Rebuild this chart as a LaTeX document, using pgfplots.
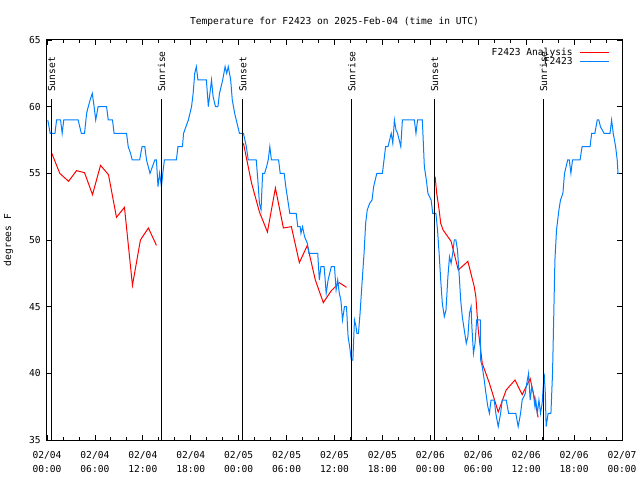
\documentclass[border=0pt]{standalone}
\usepackage{fontspec}
\setmainfont{DejaVu Sans Mono}
\usepackage{pgfplots}
\pgfplotsset{compat=1.18}
\definecolor{gred}{RGB}{255,0,0}
\definecolor{gblue}{RGB}{0,128,255}
\begin{document}
\fontsize{9.6bp}{12bp}\selectfont
\begin{tikzpicture}
\begin{axis}[
  name=ax, at={(0,0)}, anchor=south west,
  scale only axis, width=575bp, height=400bp,
  xmin=0, xmax=72, ymin=35, ymax=65,
  xtick={0,6,...,72}, minor x tick num=2,
  ytick={35,40,...,65},
  xticklabels={{02/04\\00:00},{02/04\\06:00},{02/04\\12:00},{02/04\\18:00},{02/05\\00:00},{02/05\\06:00},{02/05\\12:00},{02/05\\18:00},{02/06\\00:00},{02/06\\06:00},{02/06\\12:00},{02/06\\18:00},{02/07\\00:00}},
  xticklabel style={align=center, font=\fontsize{9.6bp}{14bp}\selectfont, yshift=-8bp},
  yticklabel style={xshift=-3bp},
  tick align=inside, xtick pos=both, ytick pos=both,
  major tick length=5bp, minor tick length=3bp,
  tick style={black, line width=0.8bp},
  axis line style={line width=1bp},
  /pgf/number format/assume math mode=true,
  every axis title shift=0pt,
  title={Temperature for F2423 on 2025-Feb-04 (time in UTC)},
  title style={at={(0.5,1.046)}, anchor=center, inner sep=0pt},
  ylabel={degrees F},
  ylabel style={at={(axis description cs:-0.067,0.5)}, anchor=center},
  legend style={draw=none, fill=none, at={(axis description cs:0.978,0.985)}, anchor=north east, inner sep=0pt, row sep=-2bp, nodes={inner sep=1.5bp}, /tikz/every odd column/.append style={column sep=5bp}},
  legend cell align=right, legend plot pos=right,
  legend image code/.code={\draw[#1] (0bp,0bp) -- (29bp,0bp);},
]
\addplot[gred, line width=1bp, unbounded coords=jump] coordinates {
(0.6,56.5) (1.6,55.0) (2.7,54.4) (3.7,55.2) (4.7,55.05) (5.7,53.4) (6.7,55.6) (7.7,54.9) (8.7,51.7) (9.7,52.45) (10.7,46.6) (11.7,50.0) (12.7,50.9) (13.7,49.6)
(13.71,nan)
(24.6,57.25) (25.6,54.3) (26.6,52.1) (27.6,50.6) (28.6,53.9) (29.6,50.9) (30.6,51.0) (31.6,48.3) (32.6,49.6) (33.6,47.0) (34.6,45.3) (35.6,46.2) (36.6,46.8) (37.5,46.45)
(37.51,nan)
(48.6,54.75) (48.8,53.5) (49.1,52.25) (49.3,51.25) (49.6,50.75) (50.6,49.9) (51.5,47.75) (52.7,48.4) (53.5,46.5) (53.7,45.75) (54.0,43.25) (54.5,40.75) (55.4,39.25) (56.5,37.1) (57.5,38.75) (58.6,39.5) (59.5,38.4) (60.5,39.6) (61.0,38.25) (61.5,36.7)
};
\addlegendentry{F2423 Analysis}
\addplot[gblue, line width=1bp] coordinates {
(0.1,59) (0.4,58) (1.0,58) (1.2,59) (1.7,59) (1.9,58) (2.1,59) (3.9,59) (4.3,58) (4.7,58) (4.96,59.5) (5.17,60) (5.4,60.5) (5.67,61) (5.9,60) (6.1,59) (6.4,60) (7.46,60) (7.67,59) (8.2,59) (8.4,58) (9.96,58) (10.17,57) (10.46,56.5) (10.67,56) (11.6,56) (11.9,57) (12.25,57) (12.46,56) (12.9,55) (13.2,55.5) (13.5,56) (13.7,56) (13.9,54) (14.1,55) (14.33,54) (14.5,55) (14.7,56) (16.2,56) (16.4,57) (16.96,57) (17.1,58) (17.7,59) (18.1,60) (18.3,61) (18.5,62.5) (18.7,63) (18.9,62) (19.96,62) (20.2,60) (20.4,61) (20.6,62) (20.8,60.75) (21.1,60) (21.4,60) (21.6,61) (22.0,62) (22.3,63) (22.5,62.5) (22.7,63) (23.0,62) (23.2,60.5) (23.5,59.5) (23.9,58.5) (24.1,58) (24.6,58) (24.96,57) (25.2,56) (26.2,56) (26.4,54.5) (26.6,52.75) (26.8,52.25) (27.0,55) (27.25,55) (27.5,55.5) (27.7,56) (27.9,57) (28.1,56) (29.0,56) (29.2,55) (29.7,55) (29.9,54) (30.4,52) (31.2,52) (31.4,51) (31.7,51) (31.8,50.5) (32.0,51) (32.25,50.25) (32.6,49.75) (32.8,49) (33.9,49) (34.1,47) (34.3,48) (34.7,48) (34.96,46) (35.2,47) (35.6,48) (36.0,48) (36.2,46.25) (36.4,47) (36.6,46) (36.8,45.5) (37.0,44) (37.25,45) (37.5,45) (37.7,42.75) (37.9,42) (38.1,41) (38.3,41) (38.5,44) (38.7,43.5) (38.8,43) (39.0,43) (39.2,44.5) (39.5,47.25) (39.7,49) (39.9,51.25) (40.1,52.25) (40.4,52.75) (40.7,53) (40.9,54) (41.3,55) (42.0,55) (42.2,56) (42.4,57) (42.7,57) (42.9,57.5) (43.1,58) (43.3,57.25) (43.5,59) (43.7,58.25) (43.9,58) (44.3,57) (44.5,59) (46.0,59) (46.2,58) (46.4,59) (47.0,59) (47.25,55.5) (47.5,54.5) (47.7,53.5) (48.1,53) (48.3,52) (48.7,52) (48.9,50.75) (49.1,49) (49.3,47) (49.5,45.25) (49.75,44.25) (49.96,44.75) (50.2,47.25) (50.4,48.75) (50.6,48.25) (50.8,49) (51.0,50) (51.2,50) (51.4,49.25) (51.6,47.5) (51.8,45.5) (52.0,44.25) (52.25,43.25) (52.5,42.25) (52.7,42.75) (52.9,44.5) (53.1,45) (53.2,43.5) (53.4,41.5) (53.6,42.25) (53.8,44) (54.25,44) (54.3,41) (54.5,40.5) (54.75,39.5) (54.96,38.5) (55.2,37.5) (55.4,37) (55.6,38) (56.0,38) (56.2,37) (56.5,36) (56.8,37) (57.0,38) (57.5,38) (57.8,37) (58.7,37) (59.0,36) (59.3,37) (59.5,38) (59.9,38.5) (60.0,39) (60.3,40) (60.5,38) (60.7,39) (60.9,38.5) (61.1,37.5) (61.2,38) (61.4,37) (61.6,38) (61.8,37) (62.0,37.75) (62.25,40) (62.4,38.5) (62.5,36) (62.75,37) (63.1,37) (63.3,40) (63.4,42.75) (63.6,48.5) (63.8,50.75) (63.9,51.25) (64.1,52.25) (64.3,53) (64.6,53.5) (64.8,55) (65.2,56) (65.4,56) (65.6,55) (65.8,56) (66.75,56) (67.0,57) (68.0,57) (68.2,58) (68.6,58) (68.9,59) (69.1,59) (69.3,58.5) (69.75,58) (70.5,58) (70.7,59) (70.9,58) (71.2,57) (71.4,56) (71.5,55) (71.6,55)
};
\addlegendentry{F2423}
\addplot[black, line width=1bp, forget plot] coordinates {(0.58,35) (0.58,60.6)};
\addplot[black, line width=1bp, forget plot] coordinates {(14.33,35) (14.33,60.6)};
\addplot[black, line width=1bp, forget plot] coordinates {(24.54,35) (24.54,60.6)};
\addplot[black, line width=1bp, forget plot] coordinates {(38.17,35) (38.17,60.6)};
\addplot[black, line width=1bp, forget plot] coordinates {(48.55,35) (48.55,60.6)};
\addplot[black, line width=1bp, forget plot] coordinates {(62.17,35) (62.17,60.6)};
\node[rotate=90, anchor=west, inner sep=0pt] at (axis cs:0.58,61.1) {Sunset};
\node[rotate=90, anchor=west, inner sep=0pt] at (axis cs:14.33,61.1) {Sunrise};
\node[rotate=90, anchor=west, inner sep=0pt] at (axis cs:24.54,61.1) {Sunset};
\node[rotate=90, anchor=west, inner sep=0pt] at (axis cs:38.17,61.1) {Sunrise};
\node[rotate=90, anchor=west, inner sep=0pt] at (axis cs:48.55,61.1) {Sunset};
\node[rotate=90, anchor=west, inner sep=0pt] at (axis cs:62.17,61.1) {Sunrise};
\end{axis}
\pgfresetboundingbox
\path (-47bp,-40bp) rectangle (593bp,440bp);
\end{tikzpicture}
\end{document}
